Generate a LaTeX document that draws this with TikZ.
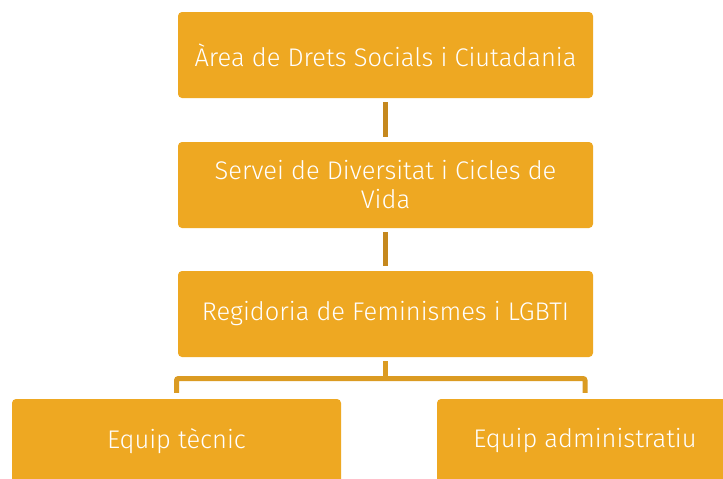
\documentclass[tikz,border=0pt]{standalone}
\usepackage{fontspec}
\setmainfont{Fira Sans Light}
\definecolor{boxgold}{HTML}{EEA822}
\definecolor{linkdark}{HTML}{C5881E}
\definecolor{linkgold}{HTML}{DB9B22}
\begin{document}
\begin{tikzpicture}[x=1pt,y=-1pt,
  unit/.style={fill=boxgold, rounded corners=4pt, text=white, align=center,
    font=\fontsize{25.5}{29}\selectfont, inner sep=0pt},
  toplevel/.style={unit, minimum width=415pt, minimum height=86pt},
  team/.style={unit, minimum height=84pt}]
\path[fill=white] (0,0) rectangle (723,479);
\useasboundingbox (0,0) rectangle (723,479);

\node[toplevel] (area) at (385.5,55) {Àrea de Drets Socials i Ciutadania};
\node[toplevel] (servei) at (385.5,185) {Servei de Diversitat i Cicles de\\Vida};
\node[toplevel] (regidoria) at (385.5,314) {Regidoria de Feminismes i LGBTI};

\node[team, minimum width=329pt] (tecnic) at (176.5,441) {Equip tècnic};
\node[team, minimum width=296pt] (admin) at (585,441) {Equip administratiu};

\coordinate (fork) at (385.5,378.5);

\path[draw=linkdark,line width=5pt] ([yshift=-4pt]area.south) -- ([yshift=5pt]servei.north);
\path[draw=linkdark,line width=5pt] ([yshift=-4pt]servei.south) -- ([yshift=5pt]regidoria.north);

\path[draw=linkgold,line width=5pt] ([yshift=-4pt]regidoria.south) -- (fork);
\path[draw=linkgold,line width=5pt,rounded corners=2pt] ([yshift=6pt]tecnic.north) |- (fork) -| ([yshift=6pt]admin.north);

\end{tikzpicture}
\end{document}
